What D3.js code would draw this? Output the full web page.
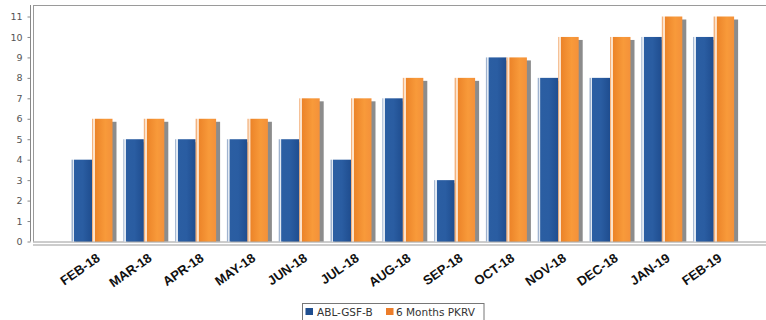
<!DOCTYPE html>
<html>
<head>
<meta charset="utf-8">
<script src="https://cdn.jsdelivr.net/npm/d3@7/dist/d3.min.js"></script>
<style>
  html, body { margin: 0; padding: 0; background: #fff; }
  svg { display: block; }
</style>
</head>
<body>
<div id="chart"></div>
<script>
// Monthly comparison: fund vs 6-month PKRV
const categories = ["FEB-18","MAR-18","APR-18","MAY-18","JUN-18","JUL-18","AUG-18","SEP-18","OCT-18","NOV-18","DEC-18","JAN-19","FEB-19"];
const seriesNames = ["ABL-GSF-B", "6 Months PKRV"];
const ablValues  = [4, 5, 5, 5, 5, 4, 7, 3, 9, 8, 8, 10, 10];
const pkrvValues = [6, 6, 6, 6, 7, 7, 8, 8, 9, 10, 10, 11, 11];
const yTicks = [0,1,2,3,4,5,6,7,8,9,10,11];

const W = 766, H = 320;
const plot = { left: 33, top: 5, right: 766, bottom: 241.5 };

const svg = d3.select("#chart").append("svg")
  .attr("width", W).attr("height", H);

const defs = svg.append("defs");

function barGradient(id, stops) {
  const g = defs.append("linearGradient").attr("id", id)
    .attr("x1", "0%").attr("x2", "100%").attr("y1", "0%").attr("y2", "0%");
  stops.forEach(([o, c]) => g.append("stop").attr("offset", o).attr("stop-color", c));
}
barGradient("gBlue", [
  ["0%", "#9fb3cf"], ["5%", "#9fb3cf"], ["6%", "#e3eaf3"], ["12%", "#e3eaf3"],
  ["14%", "#2b5ea2"], ["55%", "#2a5da2"], ["100%", "#1f4d8f"]
]);
barGradient("gOrange", [
  ["0%", "#f3b27e"], ["5%", "#f3b27e"], ["6%", "#fde3cb"], ["14%", "#fde3cb"],
  ["16%", "#ec8429"], ["65%", "#f89a3a"], ["100%", "#f4913a"]
]);
defs.append("filter").attr("id", "soft")
  .append("feGaussianBlur").attr("stdDeviation", 0.7);

const x = d3.scaleBand().domain(categories).range([66.1, 66.1 + 13 * 51.8]);
const y = d3.scaleLinear().domain([0, 11]).range([plot.bottom, 16.5]);
const barW = 20.5;

// plot frame
const frame = svg.append("g").attr("fill", "none").attr("stroke", "#9a9a9a").attr("stroke-width", 1);
frame.append("line").attr("x1", plot.left).attr("x2", plot.right).attr("y1", plot.top + 0.5).attr("y2", plot.top + 0.5);
frame.append("line").attr("x1", plot.left + 0.5).attr("x2", plot.left + 0.5).attr("y1", plot.top).attr("y2", plot.bottom);
frame.append("line").attr("x1", plot.left).attr("x2", plot.right).attr("y1", plot.bottom + 0.5).attr("y2", plot.bottom + 0.5);
// category axis line
frame.append("line").attr("x1", plot.left).attr("x2", plot.right).attr("y1", plot.bottom + 3.5).attr("y2", plot.bottom + 3.5);

// value axis
const yAxis = d3.axisLeft(y).tickValues(yTicks).tickSize(3).tickPadding(5).tickFormat(d3.format("d"));
const ya = svg.append("g").attr("transform", "translate(30.5,0)").call(yAxis);
ya.select(".domain").attr("stroke", "#888").attr("d", `M0,${plot.top}V${plot.bottom}`);
ya.selectAll(".tick line").attr("stroke", "#888");
ya.selectAll(".tick text")
  .attr("fill", "#555").attr("font-family", "DejaVu Sans, sans-serif").attr("font-size", 9.5);

// bars
const bars = svg.append("g");
const series = [
  { values: ablValues, fill: "url(#gBlue)", dx: -barW },
  { values: pkrvValues, fill: "url(#gOrange)", dx: 0 }
];
series.forEach(s => {
  const center = d => x(d) + x.bandwidth() / 2;
  bars.append("g").selectAll("rect").data(categories).join("rect")
    .attr("x", (d) => center(d) + s.dx + 4)
    .attr("y", (d, i) => y(s.values[i]) + 3)
    .attr("width", barW)
    .attr("height", (d, i) => plot.bottom - y(s.values[i]) - 3)
    .attr("fill", "#8c8c8c")
    .attr("filter", "url(#soft)");
  bars.append("g").selectAll("rect").data(categories).join("rect")
    .attr("x", (d) => center(d) + s.dx)
    .attr("y", (d, i) => y(s.values[i]))
    .attr("width", barW)
    .attr("height", (d, i) => plot.bottom - y(s.values[i]))
    .attr("fill", s.fill);
});

// category labels
svg.append("g").selectAll("text").data(categories).join("text")
  .attr("transform", d => `translate(${x(d) + x.bandwidth() / 2 + 9},260) rotate(-35)`)
  .attr("text-anchor", "end")
  .attr("font-family", "Liberation Sans, Arial, sans-serif")
  .attr("font-weight", "bold")
  .attr("font-size", 13)
  .attr("fill", "#111")
  .text(d => d);

// legend
const legend = svg.append("g");
legend.append("rect").attr("x", 302.5).attr("y", 303.5).attr("width", 181.5).attr("height", 30)
  .attr("fill", "#fff").attr("stroke", "#777");
const legendItems = [
  { name: seriesNames[0], color: "#1f4e8f", sx: 305.5, tx: 317 },
  { name: seriesNames[1], color: "#ec7d2a", sx: 386, tx: 396 }
];
legendItems.forEach(it => {
  legend.append("rect").attr("x", it.sx).attr("y", 308).attr("width", 7.5).attr("height", 7).attr("fill", it.color);
  legend.append("text").attr("x", it.tx).attr("y", 315.5)
    .attr("font-family", "DejaVu Sans, sans-serif").attr("font-size", 10.5).attr("fill", "#333")
    .text(it.name);
});
</script>
</body>
</html>
